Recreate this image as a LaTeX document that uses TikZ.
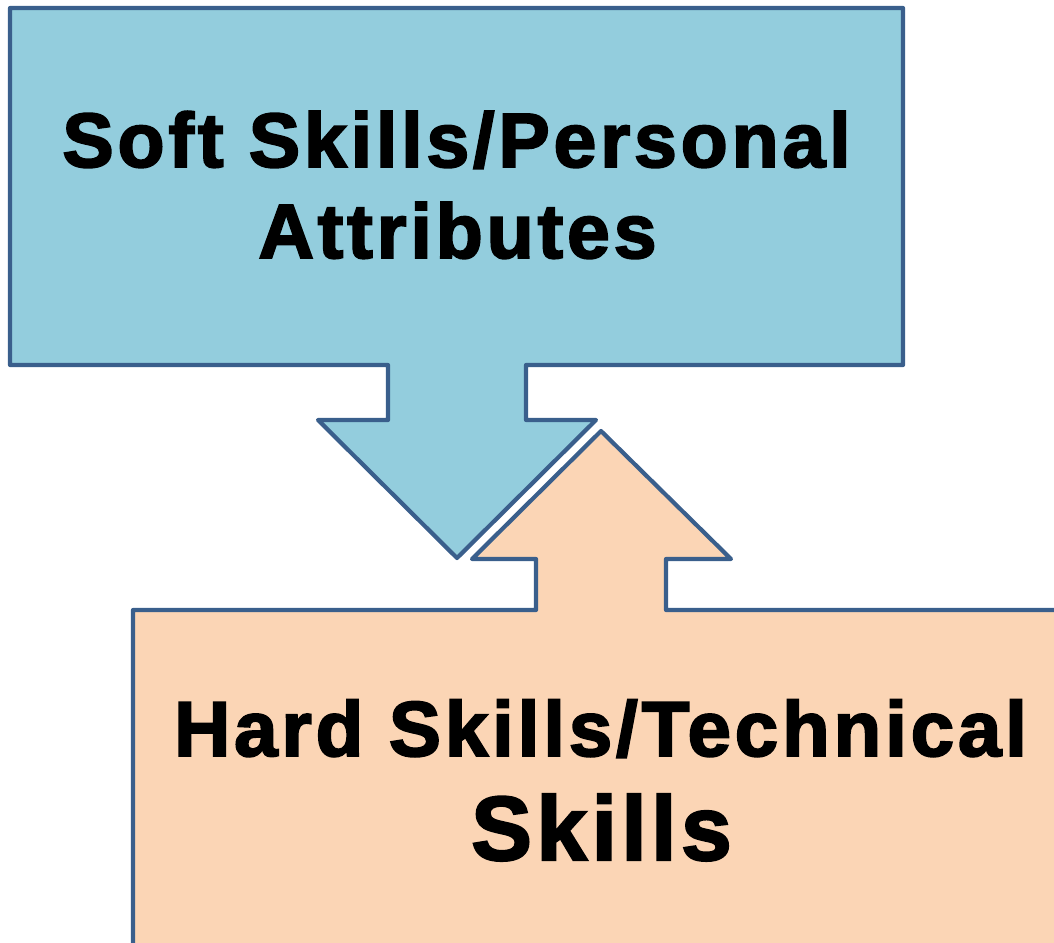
\documentclass[tikz,border=0pt]{standalone}
\usepackage{fontspec}
\setmainfont{Liberation Sans}
\newfontfamily\skillfont{Liberation Sans}[LetterSpace=5,FakeBold=2.5]
\definecolor{softblue}{HTML}{93CDDD}
\definecolor{hardpeach}{HTML}{FBD5B5}
\definecolor{edgeblue}{HTML}{3A5F8C}
\begin{document}
\begin{tikzpicture}[x=1pt,y=-1pt,
	shapeline/.style={draw=edgeblue, line width=4.2pt, line join=round},
	skilltext/.style={anchor=base, inner sep=0pt, font=\skillfont\bfseries}]
	\useasboundingbox (0,0) rectangle (1054,942);
	\clip (0,0) rectangle (1054,942);
	% soft skills box with arrow down
	\draw[shapeline, fill=softblue] (10,8) -- (903,8) -- (903,365) -- (526,365) -- (526,420) -- (596,420)
		-- (457,558) -- (318,420) -- (388,420) -- (388,365) -- (10,365) -- cycle;
	% hard skills box with arrow up
	\draw[shapeline, fill=hardpeach] (133,610) -- (536,610) -- (536,559) -- (472,559) -- (601,431)
		-- (731,559) -- (666,559) -- (666,610) -- (1080,610) -- (1080,960) -- (133,960) -- cycle;
	\node[skilltext, font=\skillfont\bfseries\fontsize{77}{80}\selectfont] (soft1) at (456.5,167) {Soft Skills/Personal};
	\node[skilltext, font=\skillfont\bfseries\fontsize{77}{80}\selectfont] (soft2) at (457.5,258) {Attributes};
	\node[skilltext, font=\skillfont\bfseries\fontsize{78}{80}\selectfont] (hard1) at (600.5,756) {Hard Skills/Technical};
	\node[skilltext, font=\skillfont\bfseries\fontsize{91}{95}\selectfont] (hard2) at (601.5,860) {Skills};
\end{tikzpicture}
\end{document}
